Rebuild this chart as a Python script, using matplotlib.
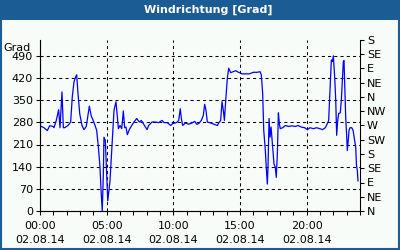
import pandas as pd
import matplotlib
matplotlib.use('Agg')
import matplotlib.pyplot as plt
import matplotlib.dates as mdates
from matplotlib.patches import Rectangle

# hours after 02.08.14 00:00 and wind direction in degrees
hours = [0.0, 0.3, 0.55, 0.72, 0.98, 1.05, 1.22, 1.4, 1.5, 1.65, 1.75, 1.85, 2.1, 2.3,
         2.42, 2.55, 2.68, 2.75, 2.85, 2.98, 3.15, 3.3, 3.47, 3.6, 3.7, 3.85, 3.95,
         4.13, 4.25, 4.38, 4.5, 4.58, 4.67, 4.75, 4.8, 4.9, 5.0, 5.08, 5.18, 5.25,
         5.35, 5.45, 5.55, 5.7, 5.8, 5.88, 6.0, 6.13, 6.25, 6.35, 6.45, 6.55, 6.7,
         6.88, 7.05, 7.25, 7.45, 7.6, 7.75, 8.03, 8.15, 8.4, 8.65, 8.9, 9.15, 9.3,
         9.55, 9.8, 9.95, 10.15, 10.3, 10.4, 10.52, 10.6, 10.7, 10.9, 11.15, 11.4,
         11.6, 11.75, 11.9, 12.1, 12.25, 12.35, 12.45, 12.55, 12.8, 13.05, 13.3,
         13.4, 13.55, 13.65, 13.75, 13.83, 13.93, 14.05, 14.15, 14.3, 14.5, 14.68,
         14.8, 14.95, 15.17, 15.7, 16.0, 16.3, 16.5, 16.6, 16.7, 16.78, 16.9, 16.97,
         17.05, 17.1, 17.18, 17.25, 17.33, 17.45, 17.55, 17.65, 17.72, 17.8, 17.88,
         17.95, 18.02, 18.2, 18.4, 18.65, 18.9, 19.15, 19.35, 19.6, 19.85, 20.05,
         20.25, 20.5, 20.75, 20.98, 21.2, 21.4, 21.55, 21.65, 21.75, 21.85, 21.93,
         22.0, 22.1, 22.18, 22.25, 22.33, 22.4, 22.52, 22.6, 22.68, 22.75, 22.8,
         22.87, 22.93, 23.0, 23.05, 23.12, 23.18, 23.25, 23.38, 23.48, 23.6, 23.68,
         23.73, 23.8, 23.85]
grad = [269, 263, 254, 269, 267, 263, 286, 320, 263, 376, 263, 263, 270, 281,
        360, 408, 424, 430, 371, 307, 270, 257, 267, 302, 331, 299, 290,
        270, 255, 201, 138, 64, 0, 117, 233, 223, 117, 32, 69, 95,
        170, 244, 318, 345, 297, 260, 270, 260, 316, 263, 265, 241, 257,
        270, 281, 292, 281, 286, 276, 257, 270, 281, 281, 279, 286, 279,
        279, 270, 276, 278, 281, 286, 323, 292, 270, 278, 274, 278,
        283, 274, 276, 286, 302, 337, 318, 281, 278, 274, 270,
        278, 286, 345, 318, 286, 350, 419, 451, 437, 440, 443,
        440, 437, 433, 433, 438, 438, 440, 430, 371, 255, 191, 138,
        85, 138, 292, 233, 265, 201, 148, 138, 106, 180, 310,
        276, 260, 263, 270, 267, 269, 267, 270, 265, 263, 257,
        263, 260, 263, 260, 257, 263, 276, 286, 382, 477, 472,
        490, 424, 350, 239, 286, 308, 310, 350, 414, 472, 475,
        382, 292, 239, 191, 223, 255, 263, 263, 255, 223, 201,
        148, 127, 95]

tick_hours = [0, 5, 10, 15, 20]
y_ticks = [0, 70, 140, 210, 280, 350, 420, 490]
compass_deg = [0, 45, 90, 135, 180, 225, 270, 315, 360, 405, 450, 495, 540]
compass_labels = ['N', 'NE', 'E', 'SE', 'S', 'SW', 'W', 'NW', 'N', 'NE', 'E', 'SE', 'S']

blue_frame = '#1c5c94'
bg = '#f8fcf8'

start = pd.Timestamp('2014-08-02 00:00')
times = start + pd.to_timedelta(hours, unit='h')

fig = plt.figure(figsize=(4, 2.5), dpi=100, facecolor=bg)
ax = fig.add_axes([0.1, 0.156, 0.8, 0.684])
ax.set_facecolor(bg)

ax.plot(times, grad, color='#0000ff', linewidth=0.9)

ax.set_xlim(start, start + pd.Timedelta(hours=24))
ax.set_ylim(0, 540)
ax.set_yticks(y_ticks)
ax.set_xticks([start + pd.Timedelta(hours=h) for h in tick_hours])
ax.xaxis.set_minor_locator(mdates.HourLocator())
ax.xaxis.set_major_formatter(mdates.DateFormatter('%H:%M\n%d.%m.%y'))

ax.grid(True, which='major', color='black', linestyle=(0, (3, 3)), linewidth=0.75)
ax.spines['top'].set_visible(False)
for s in ['left', 'right', 'bottom']:
    ax.spines[s].set_linewidth(0.75)
ax.tick_params(axis='both', which='both', direction='out', length=3, width=0.75,
               labelsize=8, pad=2)
ax.tick_params(axis='x', which='major', pad=4)
for lbl in ax.get_xticklabels():
    lbl.set_linespacing(1.5)

ax2 = ax.twinx()
ax2.set_ylim(0, 540)
ax2.set_yticks(compass_deg)
ax2.set_yticklabels(compass_labels)
ax2.spines['top'].set_visible(False)
ax2.spines['right'].set_linewidth(0.75)
ax2.tick_params(axis='y', direction='out', length=3, width=0.75, labelsize=8, pad=2)

ax.text(-0.03, 0.955, 'Grad', transform=ax.transAxes, ha='right', va='center', fontsize=8)

# title bar and outer frame
fig.patches.append(Rectangle((0, 0.92), 1, 0.08, transform=fig.transFigure,
                             facecolor=blue_frame, edgecolor='none', zorder=0))
fig.patches.append(Rectangle((0.0025, 0.004), 0.995, 0.99, transform=fig.transFigure,
                             facecolor='none', edgecolor=blue_frame, linewidth=1.5, zorder=0))
fig.text(0.52, 0.96, 'Windrichtung [Grad]', color='white', fontsize=8,
         fontweight='bold', ha='center', va='center')

fig.savefig('out.png', dpi=100, facecolor=bg)
